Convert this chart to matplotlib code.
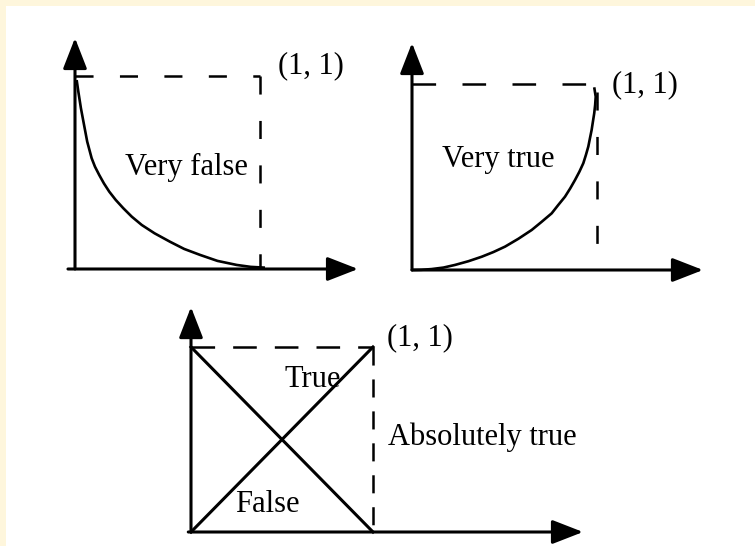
import matplotlib
matplotlib.use("Agg")
import matplotlib.pyplot as plt
from matplotlib.patches import FancyArrowPatch, ArrowStyle, Rectangle

plt.rcParams['font.family'] = ['Liberation Serif', 'DejaVu Serif']
plt.rcParams['lines.scale_dashes'] = False

# ---- data (unit-square membership curves) ----
vf_x = [0.009, 0.018, 0.032, 0.049, 0.066, 0.090, 0.108, 0.131, 0.156, 0.185,
        0.220, 0.261, 0.307, 0.361, 0.430, 0.514, 0.590, 0.676, 0.770, 0.874,
        0.950, 1.027]
vf_y = [0.979, 0.919, 0.833, 0.746, 0.660, 0.574, 0.530, 0.487, 0.444, 0.401,
        0.358, 0.315, 0.271, 0.228, 0.185, 0.141, 0.104, 0.073, 0.042, 0.021,
        0.011, 0.007]

vt_x = [0.0, 0.050, 0.106, 0.170, 0.232, 0.305, 0.377, 0.440, 0.503, 0.575,
        0.647, 0.700, 0.755, 0.790, 0.827, 0.855, 0.881, 0.905, 0.926, 0.940,
        0.953, 0.962, 0.971, 0.978, 0.985, 0.990, 0.993, 0.985]
vt_y = [0.0, 0.001, 0.005, 0.013, 0.027, 0.047, 0.071, 0.096, 0.125, 0.167,
        0.214, 0.257, 0.303, 0.347, 0.392, 0.436, 0.481, 0.526, 0.571, 0.615,
        0.660, 0.705, 0.749, 0.794, 0.838, 0.883, 0.927, 0.977]

lin_x = [0.0, 1.0]
false_y = [1.0, 0.0]
true_y = [0.0, 1.0]

corner_label = "(1, 1)"
labels_top = ["Very false", "Very true"]
labels_bottom = ["True", "False", "Absolutely true"]

W, H = 755, 546
fig = plt.figure(figsize=(W / 100, H / 100), dpi=100)
fig.patch.set_facecolor('#fef6dc')
bg = Rectangle((6 / W, 0), 1 - 6 / W, (H - 6) / H,
               transform=fig.transFigure, facecolor='white',
               edgecolor='none', zorder=-10)
fig.patches.append(bg)


def make_ax(left, right, bottom, top):
    ax = fig.add_axes([left / W, (H - bottom) / H, (right - left) / W,
                       (bottom - top) / H])
    ax.set_xlim(0, 1)
    ax.set_ylim(0, 1)
    ax.set_axis_off()
    ax.patch.set_alpha(0)
    ax.set_zorder(5)
    return ax


def arrow(ax, a, b):
    style = ArrowStyle('-|>', head_length=19, head_width=7.4)
    p = FancyArrowPatch(a, b, arrowstyle=style, mutation_scale=1, lw=2.2,
                        color='black', shrinkA=0, shrinkB=0,
                        transform=ax.transData, clip_on=False, zorder=3)
    ax.add_patch(p)


FS = 22
txt = dict(fontsize=FS, ha='left', va='baseline', color='black')
curve_kw = dict(color='black', lw=1.9, clip_on=False,
                solid_joinstyle='round', solid_capstyle='butt')

# ---- panel 1: very false ----
ax1 = make_ax(75, 260, 269, 76)
arrow(ax1, (-0.038, 0), (1.53, 0))
arrow(ax1, (0, 0), (0, 1.197))
ax1.plot([0, 1.0], [1, 1], color='black', lw=1.8, dashes=(13, 19), clip_on=False)
ax1.plot([1.0, 1.0], [1, 0], color='black', lw=1.8, dashes=(13, 19), clip_on=False)
ax1.plot(vf_x, vf_y, **curve_kw)
ax1.text(0.270, 0.487, labels_top[0], **txt)
ax1.text(1.097, 1.016, corner_label, **txt)

# ---- panel 2: very true ----
ax2 = make_ax(412, 597, 270, 83)
arrow(ax2, (0, 0), (1.573, 0))
arrow(ax2, (0, 0), (0, 1.214))
ax2.plot([0, 0.962], [0.995, 0.995], color='black', lw=1.8, dashes=(17, 19), clip_on=False)
ax2.plot([1.0, 1.0], [0.952, 0], color='black', lw=1.8, dashes=(13, 19), clip_on=False)
ax2.plot(vt_x, vt_y, **curve_kw)
ax2.text(0.161, 0.552, labels_top[1], **txt)
ax2.text(1.079, 0.953, corner_label, **txt)

# ---- panel 3: true / false ----
ax3 = make_ax(191, 373, 532, 347)
arrow(ax3, (-0.015, 0), (2.154, 0))
arrow(ax3, (0, 0), (0, 1.216))
ax3.plot([0, 1.0], [1, 1], color='black', lw=1.8, dashes=(17, 13), clip_on=False)
ax3.plot([1.0, 1.0], [1, 0], color='black', lw=1.8, dashes=(13, 10), clip_on=False)
ax3.plot(lin_x, false_y, color='black', lw=2.2, clip_on=False)
ax3.plot(lin_x, true_y, color='black', lw=2.2, clip_on=False)
ax3.text(0.511, 0.785, labels_bottom[0], **txt)
ax3.text(0.242, 0.110, labels_bottom[1], **txt)
ax3.text(1.081, 0.470, labels_bottom[2], **txt)
ax3.text(1.075, 1.011, corner_label, **txt)

fig.savefig('out.png', dpi=100, facecolor=fig.get_facecolor())
